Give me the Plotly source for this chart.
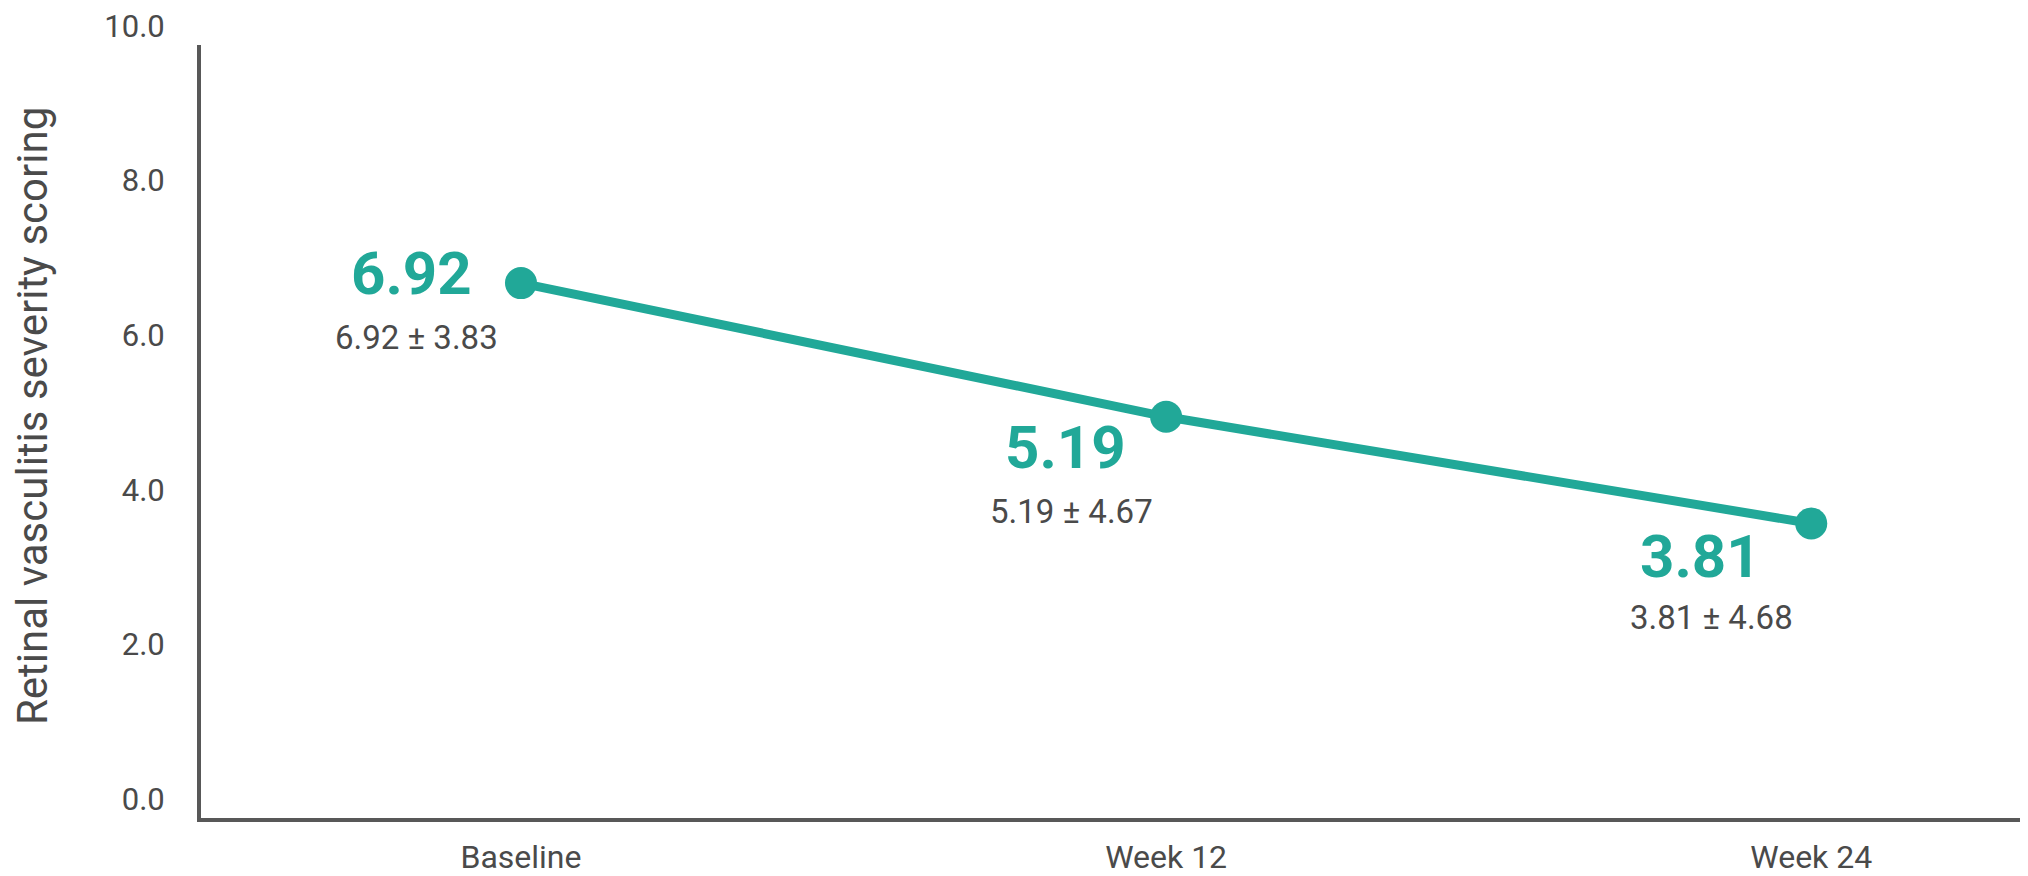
import plotly.graph_objects as go

categories = ["Baseline", "Week 12", "Week 24"]
means = [6.92, 5.19, 3.81]
sds = [3.83, 4.67, 4.68]
y_ticks = [0, 2, 4, 6, 8, 10]
y_title = "Retinal vasculitis severity scoring"

TEAL = "#21a898"
GRAY = "#4a4a4a"
AXIS = "#585858"
FONT = "Roboto"

# label offsets (pixels) relative to each point
bold_dx = [-47, -38, -48]
bold_dy = [10, -31, -33]
small_dx = [-104, -95, -100]
small_dy = [-54, -95, -94]

fig = go.Figure()
fig.add_trace(go.Scatter(
    x=categories, y=means, mode="lines+markers",
    line=dict(color=TEAL, width=9),
    marker=dict(color=TEAL, size=32),
    hoverinfo="skip", showlegend=False,
))

for i, (c, m, s) in enumerate(zip(categories, means, sds)):
    fig.add_annotation(x=c, y=m, xref="x", yref="y", text=f"<b>{m:.2f}</b>",
                       showarrow=False, xanchor="right", yanchor="middle",
                       xshift=bold_dx[i], yshift=bold_dy[i],
                       font=dict(family=FONT, size=60, color=TEAL))
    fig.add_annotation(x=c, y=m, xref="x", yref="y", text=f"{m:.2f} ± {s:.2f}",
                       showarrow=False, xanchor="center", yanchor="middle",
                       xshift=small_dx[i], yshift=small_dy[i],
                       font=dict(family=FONT, size=33, color=GRAY))

fig.add_annotation(x=0, y=0.52, xref="paper", yref="paper", text=y_title,
                   textangle=-90, showarrow=False, xanchor="center", yanchor="middle",
                   xshift=-169, borderpad=0,
                   font=dict(family=FONT, size=42, color=GRAY))

# page body has an 8px margin, so the figure is sized to fit the window exactly
fig.update_layout(
    width=2020, height=868,
    margin=dict(l=193, r=0, t=34, b=54),
    paper_bgcolor="white", plot_bgcolor="white",
    font=dict(family=FONT, color=GRAY),
)
fig.update_xaxes(
    type="category", range=[-0.496, 2.336],
    showline=True, linecolor=AXIS, linewidth=4,
    showgrid=False, zeroline=False, ticks="",
    tickfont=dict(family=FONT, size=32, color=GRAY),
    ticklabelstandoff=8,
)
fig.update_yaxes(
    range=[0, 10], tickvals=y_ticks, ticktext=[f"{v:.1f}" for v in y_ticks],
    showline=True, linecolor=AXIS, linewidth=4,
    showgrid=False, zeroline=False, ticks="",
    tickfont=dict(family=FONT, size=31, color=GRAY),
    ticklabelshift=-19, ticklabelstandoff=26,
    ticklabeloverflow="allow",
)

fig.write_html("out.html")
